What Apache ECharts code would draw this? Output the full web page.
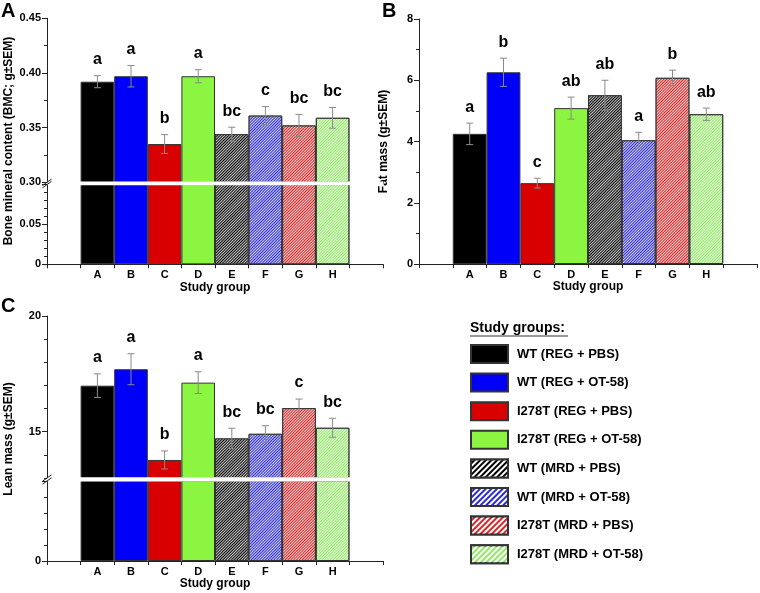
<!DOCTYPE html>
<html><head><meta charset="utf-8">
<script src="https://cdn.jsdelivr.net/npm/echarts@6/dist/echarts.min.js"></script>
<style>html,body{margin:0;padding:0;background:#fff}#c{width:760px;height:593px}</style>
</head><body><div id="c"></div>
<script>
// ---------- data ----------
const groups = ['WT (REG + PBS)', 'WT (REG + OT-58)', 'I278T (REG + PBS)', 'I278T (REG + OT-58)',
  'WT (MRD + PBS)', 'WT (MRD + OT-58)', 'I278T (MRD + PBS)', 'I278T (MRD + OT-58)'];
const categories = ['A', 'B', 'C', 'D', 'E', 'F', 'G', 'H'];
const bmcMean = [0.392, 0.397, 0.335, 0.397, 0.344, 0.361, 0.352, 0.359];
const bmcSem = [0.0055, 0.0098, 0.0086, 0.0060, 0.0064, 0.0083, 0.0101, 0.0095];
const bmcLetters = ['a', 'a', 'b', 'a', 'bc', 'c', 'bc', 'bc'];
const fatMean = [4.25, 6.26, 2.64, 5.09, 5.51, 4.04, 6.08, 4.89];
const fatSem = [0.35, 0.46, 0.16, 0.36, 0.49, 0.26, 0.25, 0.20];
const fatLetters = ['a', 'b', 'c', 'ab', 'ab', 'a', 'b', 'ab'];
const leanMean = [16.99, 17.70, 13.78, 17.12, 14.71, 14.91, 16.02, 15.17];
const leanSem = [0.51, 0.67, 0.39, 0.47, 0.44, 0.35, 0.39, 0.41];
const leanLetters = ['a', 'a', 'b', 'a', 'bc', 'bc', 'c', 'bc'];
// axis ranges / ticks
const bmcUpper = [0.30, 0.45, 0.05];
const bmcLower = [0, 0.10, 0.05];
const fatRange = [0, 8, 2];
const leanUpper = [13, 20, 1];
const leanUpperLabels = [15, 20];
const leanLower = [0, 5, 5];

// ---------- style ----------
const FONT = '"Liberation Sans", Arial, Helvetica, sans-serif';
const fills = ['#000000', '#0000f8', '#d80000', '#8cf542', '#000000', '#2a2ad8', '#d82424', '#90e864'];
const AX = '#222';
const axisCats = [' ', ...categories, '  '];
const barDecal = { symbol: 'rect', symbolSize: 1, color: 'rgba(255,255,255,0.8)', dashArrayX: [1, 0], dashArrayY: [1, 1], rotation: -Math.PI / 4, symbolKeepAspect: false };
const legendDecal = { symbol: 'rect', symbolSize: 1, color: '#ffffff', dashArrayX: [1, 0], dashArrayY: [2, 2], rotation: -Math.PI / 4, symbolKeepAspect: false };

// layout
const LA = 47, WA = 336, LB = 419, WB = 338;
const gA1 = { top: 18.3, bottom: 182.3 }, gA2 = { top: 184.6, bottom: 264.3 };
const gB = { top: 19, bottom: 264 };
const gC1 = { top: 316, bottom: 478 }, gC2 = { top: 481, bottom: 561 };
function grid(left, width, g) { return { left: left, width: width, top: g.top, height: g.bottom - g.top, containLabel: false, outerBoundsMode: 'none' }; }

const labelStyle = { color: '#000', fontWeight: 'bold', fontSize: 11, fontFamily: FONT };
const nameStyle = { color: '#000', fontWeight: 'bold', fontSize: 12, fontFamily: FONT };

function xAxis(gi, show) {
  return {
    type: 'category', gridIndex: gi, data: axisCats, boundaryGap: true, show: show,
    axisLine: { show: true, onZero: false, lineStyle: { color: AX, width: 1 } },
    axisTick: { show: true, interval: 0, length: 4, lineStyle: { color: AX } },
    axisLabel: Object.assign({ interval: 0, margin: 5 }, labelStyle),
    splitLine: { show: false },
    name: show ? 'Study group' : '', nameLocation: 'middle', nameGap: 16, nameTextStyle: nameStyle
  };
}
function fmt(v) { return v === 0 ? '0' : (Math.abs(v) < 1 ? v.toFixed(2) : String(v)); }
function yAxis(gi, r, opts) {
  return Object.assign({
    type: 'value', gridIndex: gi, min: r[0], max: r[1], interval: r[2], position: 'left', offset: 0,
    axisLine: { show: true, lineStyle: { color: AX, width: 1 } },
    axisTick: { show: true, length: 5, lineStyle: { color: AX } },
    minorTick: { show: false },
    axisLabel: Object.assign({ margin: 6, formatter: fmt }, labelStyle),
    splitLine: { show: false }, minorSplitLine: { show: false }
  }, opts || {});
}

const xAxes = [xAxis(0, false), xAxis(1, true), xAxis(2, true), xAxis(3, false), xAxis(4, true)];
const yAxes = [
  yAxis(0, bmcUpper, { minorTick: { show: true, splitNumber: 2, length: 3, lineStyle: { color: AX } } }),
  yAxis(1, bmcLower, { minorTick: { show: true, splitNumber: 5, length: 3, lineStyle: { color: AX } },
    axisLabel: Object.assign({ margin: 6, formatter: fmt, showMaxLabel: false }, labelStyle) }),
  yAxis(2, fatRange, { minorTick: { show: true, splitNumber: 2, length: 3, lineStyle: { color: AX } },
    name: 'Fat mass (g\u00b1SEM)', nameLocation: 'middle', nameGap: 29, nameTextStyle: nameStyle }),
  yAxis(3, leanUpper, { axisTick: { show: true, length: 3, lineStyle: { color: AX } }, axisLabel: { show: false } }),
  yAxis(3, [leanUpper[0], leanUpper[1], 1], { axisLine: { show: false },
    axisTick: { show: true, length: 5, customValues: leanUpperLabels, lineStyle: { color: AX } },
    axisLabel: Object.assign({ margin: 6, customValues: leanUpperLabels, formatter: fmt }, labelStyle) }),
  yAxis(4, leanLower, { minorTick: { show: true, splitNumber: 5, length: 3, lineStyle: { color: AX } },
    axisLabel: Object.assign({ margin: 6, formatter: fmt, showMaxLabel: false }, labelStyle) })
];

function bars(xi, yi, means) {
  return groups.map(function (name, g) {
    const st = { color: fills[g], borderColor: '#333', borderWidth: 1 };
    if (g >= 4) st.decal = barDecal;
    return {
      type: 'bar', name: name, xAxisIndex: xi, yAxisIndex: yi,
      data: [[axisCats[g + 1], means[g]]],
      barGap: '-100%', barCategoryGap: '0%', clip: true, silent: true, animation: false,
      itemStyle: st,
      emphasis: { disabled: true }
    };
  });
}
function errs(xi, yi, means, sems, letters) {
  return {
    type: 'custom', xAxisIndex: xi, yAxisIndex: yi, z: 10, silent: true, animation: false,
    data: means.map(function (m, i) { return [axisCats[i + 1], m, sems[i]]; }),
    encode: { x: 0, y: 1 },
    renderItem: function (params, api) {
      const ci = api.value(0), m = api.value(1), s = api.value(2);
      const t = api.coord([ci, m + s]), b = api.coord([ci, m - s]);
      const x = t[0], cw = 3.5;
      const ls = { stroke: '#8a8a8a', lineWidth: 1 };
      return {
        type: 'group', children: [
          { type: 'line', shape: { x1: x, y1: t[1], x2: x, y2: b[1] }, style: ls },
          { type: 'line', shape: { x1: x - cw, y1: t[1], x2: x + cw, y2: t[1] }, style: ls },
          { type: 'line', shape: { x1: x - cw, y1: b[1], x2: x + cw, y2: b[1] }, style: ls },
          { type: 'text', style: { text: letters[params.dataIndex], x: x, y: t[1] - 8, align: 'center', verticalAlign: 'bottom', font: 'bold 16px ' + FONT, fill: '#000' } }
        ]
      };
    }
  };
}

const series = [].concat(
  bars(0, 0, bmcMean), bars(1, 1, bmcMean), [errs(0, 0, bmcMean, bmcSem, bmcLetters)],
  bars(2, 2, fatMean), [errs(2, 2, fatMean, fatSem, fatLetters)],
  bars(3, 3, leanMean), bars(4, 5, leanMean), [errs(3, 3, leanMean, leanSem, leanLetters)]
);

function breakMarks(g1, g2) {
  const els = [{ type: 'rect', shape: { x: LA + 0.5, y: g1.bottom - 0.7, width: WA, height: g2.top - g1.bottom + 1.3 }, style: { fill: '#fff' }, z: 100 }];
  [g1.bottom, g2.top].forEach(function (y) {
    els.push({ type: 'line', shape: { x1: LA - 4.5, y1: y + 3.2, x2: LA + 4.5, y2: y - 3.2 }, style: { stroke: AX, lineWidth: 1 }, z: 101 });
  });
  return els;
}
function panelLetter(t, x, y) { return { type: 'text', x: x, y: y, z: 100, style: { text: t, font: 'bold 20px ' + FONT, fill: '#000', align: 'left', verticalAlign: 'top' } }; }
function vName(t, x, y) { return { type: 'text', x: x, y: y, rotation: Math.PI / 2, z: 100, style: { text: t, font: 'bold 12px ' + FONT, fill: '#000', align: 'center', verticalAlign: 'middle' } }; }

const graphic = [].concat(
  breakMarks(gA1, gA2), breakMarks(gC1, gC2),
  [panelLetter('A', 1, 1), panelLetter('B', 382, 1), panelLetter('C', 1, 296),
   vName('Bone mineral content (BMC; g\u00b1SEM)', 9, 141), vName('Lean mass (g\u00b1SEM)', 9, 439),
   { type: 'text', x: 470, y: 328, z: 100, style: { text: 'Study groups:', font: 'bold 14px ' + FONT, fill: '#000', align: 'left', verticalAlign: 'middle' } },
   { type: 'line', z: 100, shape: { x1: 470, y1: 336, x2: 568, y2: 336 }, style: { stroke: '#777', lineWidth: 1.5 } }]
);

const chart = echarts.init(document.getElementById('c'), null, { renderer: 'canvas', width: 760, height: 593 });
chart.setOption({
  backgroundColor: '#fff', animation: false,
  textStyle: { fontFamily: FONT },
  grid: [grid(LA, WA, gA1), grid(LA, WA, gA2), grid(LB, WB, gB), grid(LA, WA, gC1), grid(LA, WA, gC2)],
  xAxis: xAxes, yAxis: yAxes, series: series, graphic: graphic,
  legend: {
    show: true, orient: 'vertical', left: 470, top: 344, padding: 0,
    itemWidth: 37, itemHeight: 18, itemGap: 8.6, icon: 'rect', selectedMode: false,
    textStyle: { fontFamily: FONT, fontWeight: 'bold', fontSize: 13, color: '#000', padding: [0, 0, 0, 4] },
    data: groups.map(function (n, i) { return i < 4 ? { name: n } : { name: n, itemStyle: { decal: legendDecal } }; })
  },
  tooltip: { show: false }
});
</script></body></html>
